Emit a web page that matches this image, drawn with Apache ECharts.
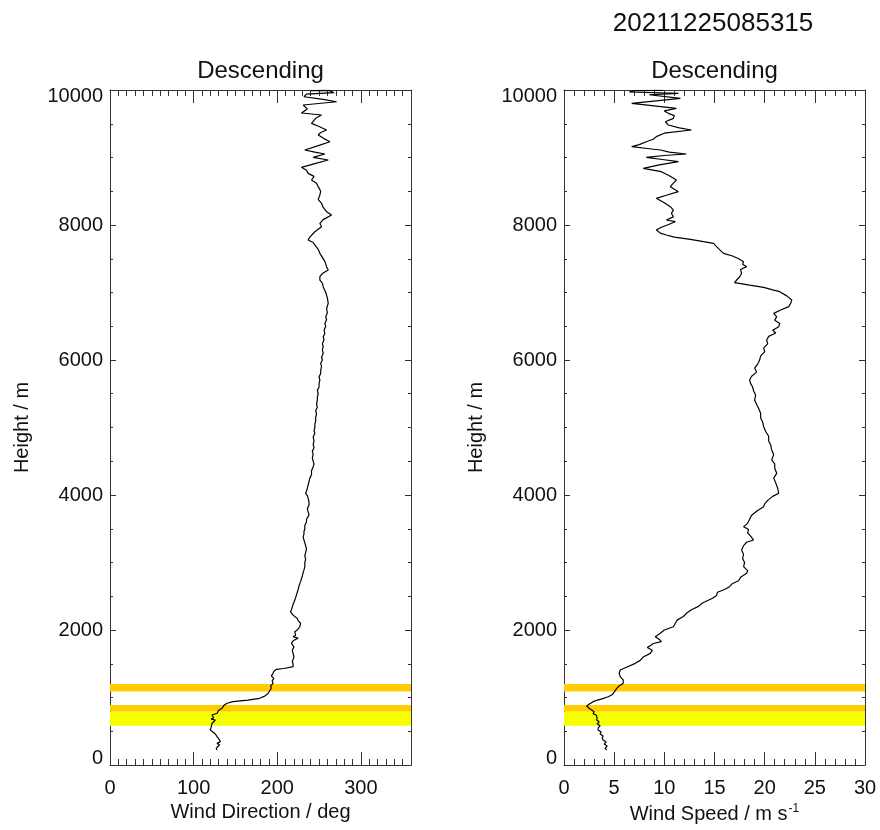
<!DOCTYPE html>
<html>
<head>
<meta charset="utf-8">
<title>Descending profile 20211225085315</title>
<script src="https://cdn.jsdelivr.net/npm/echarts@6/dist/echarts.min.js"></script>
<style>
  html, body { margin: 0; padding: 0; background: #fff; }
  #chart { width: 880px; height: 830px; }
</style>
</head>
<body>
<div id="chart"></div>
<script>
// ---- Sounding data (descending leg) ----
const stamp = '20211225085315';
const panelTitle = 'Descending';

// wind direction profile: heights (m) and direction (deg)
const dirHeights = [
  9990, 9995, 9960, 9940, 9900, 9860, 9826, 9778, 9720, 9659, 9630, 9580, 9506, 9460, 9407, 9370,
  9333, 9280, 9234, 9180, 9111, 9080, 9052, 9002, 8963, 8910, 8854, 8810, 8765, 8720, 8667, 8620,
  8568, 8500, 8444, 8380, 8321, 8260, 8198, 8148, 8123, 8080, 8025, 7975, 7900, 7820, 7778, 7740,
  7704, 7640, 7580, 7520, 7457, 7383, 7333, 7280, 7234, 7185, 7140, 7086, 7000, 6920, 6840, 6760,
  6700, 6640, 6600, 6540, 6500, 6440, 6395, 6340, 6300, 6240, 6200, 6150, 6100, 6040, 6000, 5950,
  5901, 5850, 5800, 5750, 5700, 5650, 5600, 5550, 5500, 5450, 5407, 5350, 5300, 5250, 5200, 5150,
  5100, 5050, 5000, 4950, 4914, 4860, 4800, 4750, 4700, 4650, 4600, 4550, 4500, 4460, 4420, 4360,
  4300, 4250, 4200, 4150, 4100, 4060, 4025, 3990, 3950, 3900, 3850, 3800, 3750, 3710, 3679, 3640,
  3600, 3550, 3500, 3460, 3420, 3380, 3333, 3290, 3250, 3200, 3150, 3100, 3050, 3000, 2938, 2890,
  2850, 2800, 2760, 2720, 2691, 2650, 2600, 2560, 2520, 2480, 2444, 2410, 2380, 2340, 2300, 2270,
  2247, 2220, 2200, 2170, 2140, 2100, 2049, 2020, 2000, 1975, 1950, 1920, 1900, 1880, 1840, 1802,
  1775, 1750, 1725, 1700, 1675, 1654, 1630, 1600, 1565, 1530, 1500, 1480, 1457, 1430, 1417, 1390,
  1358, 1320, 1280, 1250, 1210, 1170, 1140, 1111, 1060, 1020, 988, 960, 938, 915, 904, 880,
  860, 840, 810, 790, 766, 740, 716, 700, 680, 667, 640, 615, 593, 560, 540, 519,
  490, 460, 440, 420, 390, 370, 346, 320, 300, 272, 245, 222
];
const dirValues = [
  240, 262, 268, 235, 232, 255, 271, 231, 236, 229, 253, 246, 241, 250, 259, 252,
  249, 256, 263, 250, 233, 245, 257, 243, 261, 245, 229, 235, 237, 244, 241, 247,
  249, 252, 251, 249, 253, 255, 259, 265, 263, 255, 251, 253, 245, 239, 237, 243,
  245, 249, 251, 254, 257, 259, 261, 254, 251, 251, 254, 255, 258, 260, 261, 259,
  260, 258, 259, 257, 258, 256, 257, 255, 256, 254, 255, 254, 255, 253, 254, 252,
  253, 252, 252, 250, 251, 250, 250, 248, 249, 248, 248, 247, 248, 246, 247, 246,
  246, 245, 245, 244, 245, 243, 244, 243, 244, 242, 243, 242, 243, 244, 243, 241,
  241, 239, 238, 237, 236, 235, 234, 236, 237, 238, 238, 236, 237, 238, 237, 235,
  235, 233, 233, 232, 232, 231, 232, 233, 234, 235, 234, 233, 234, 233, 233, 232,
  231, 230, 229, 228, 227, 226, 225, 224, 223, 222, 221, 220, 219, 218, 217, 216,
  217, 219, 221, 224, 225, 228, 227, 226, 224, 221, 220, 222, 219, 225, 219, 217,
  219, 220, 218, 218, 220, 219, 221, 220, 219, 218, 219, 218, 219, 208, 199, 196,
  195, 193, 196, 194, 195, 192, 193, 191, 189, 185, 179, 165, 147, 140, 138, 136,
  134, 134, 130, 132, 128, 122, 120, 124, 121, 126, 125, 122, 122, 121, 123, 120,
  123, 126, 124, 128, 130, 129, 132, 128, 131, 130, 127, 128
];

// wind speed profile: heights (m) and speed (m s-1)
const spdHeights = [
  9995, 9990, 9970, 9950, 9930, 9877, 9802, 9728, 9690, 9654, 9620, 9580, 9530, 9481, 9440, 9407,
  9360, 9309, 9270, 9234, 9190, 9160, 9130, 9111, 9080, 9052, 9030, 9002, 8970, 8938, 8890, 8839,
  8810, 8790, 8730, 8667, 8620, 8568, 8530, 8494, 8440, 8395, 8330, 8272, 8220, 8173, 8120, 8074,
  8049, 8000, 7960, 7926, 7880, 7852, 7820, 7788, 7753, 7728, 7704, 7650, 7580, 7540, 7500, 7457,
  7420, 7383, 7340, 7284, 7230, 7185, 7146, 7110, 7077, 7040, 7012, 6950, 6889, 6840, 6790, 6740,
  6691, 6640, 6590, 6540, 6494, 6440, 6400, 6350, 6296, 6240, 6180, 6120, 6060, 5999, 5940, 5880,
  5820, 5760, 5704, 5650, 5600, 5540, 5480, 5407, 5340, 5280, 5210, 5140, 5080, 5012, 4940, 4870,
  4800, 4740, 4667, 4600, 4520, 4460, 4400, 4321, 4250, 4180, 4100, 4025, 3980, 3920, 3870, 3827,
  3770, 3700, 3640, 3580, 3531, 3490, 3440, 3390, 3333, 3300, 3250, 3185, 3120, 3060, 3000, 2940,
  2880, 2840, 2780, 2730, 2690, 2642, 2600, 2560, 2510, 2470, 2444, 2400, 2350, 2300, 2247, 2200,
  2150, 2100, 2049, 2000, 1951, 1900, 1860, 1827, 1800, 1778, 1740, 1700, 1654, 1600, 1550, 1506,
  1460, 1407, 1360, 1309, 1260, 1210, 1170, 1136, 1080, 1040, 1012, 980, 960, 938, 900, 874,
  840, 815, 790, 760, 740, 720, 700, 667, 640, 610, 580, 550, 519, 490, 460, 430,
  400, 370, 340, 310, 280, 250, 222
];
const spdValues = [
  9.9, 7.0, 6.5, 11.4, 8.5, 11.6, 6.75, 11.2, 10.0, 10.4, 11.0, 10.9, 10.1, 10.4, 11.5, 12.7,
  10.0, 9.2, 8.9, 8.2, 7.5, 6.75, 8.5, 9.6, 10.5, 12.2, 10.0, 8.2, 9.8, 11.4, 9.5, 7.9,
  9.0, 9.7, 10.5, 11.2, 10.9, 10.6, 11.0, 11.4, 10.2, 9.2, 10.0, 10.6, 10.9, 10.7, 10.9, 10.2,
  11.1, 10.3, 9.6, 9.2, 9.6, 10.2, 11.0, 12.6, 13.9, 14.9, 15.05, 15.4, 15.9, 16.8, 17.4, 17.9,
  17.8, 18.2, 17.6, 17.7, 17.5, 17.2, 17.0, 18.5, 19.9, 20.8, 21.5, 22.2, 22.7, 22.6, 22.4, 21.6,
  20.9, 21.2, 21.0, 21.5, 21.4, 20.8, 21.1, 20.4, 20.2, 20.3, 19.9, 20.0, 19.6, 19.5, 19.3, 19.0,
  19.2, 18.7, 18.5, 18.6, 18.8, 18.9, 19.1, 19.0, 19.2, 19.4, 19.6, 19.6, 19.8, 19.9, 20.1, 20.4,
  20.4, 20.6, 20.7, 20.9, 20.7, 21.0, 21.0, 21.2, 20.9, 21.1, 21.3, 21.4, 20.8, 20.3, 20.0, 19.9,
  19.3, 18.7, 18.5, 18.3, 17.9, 18.4, 18.3, 18.6, 18.9, 18.2, 17.9, 17.7, 17.9, 17.8, 18.0, 17.9,
  18.3, 18.2, 17.6, 17.4, 16.8, 16.5, 16.0, 15.3, 15.2, 14.8, 14.9, 13.8, 13.4, 12.7, 12.2, 11.9,
  11.3, 11.1, 10.9, 10.0, 9.6, 9.1, 9.5, 9.7, 8.9, 8.7, 8.3, 8.8, 8.6, 7.9, 7.6, 7.1,
  6.4, 5.6, 5.5, 5.6, 5.9, 5.9, 5.5, 5.25, 5.0, 4.8, 4.4, 3.8, 3.3, 2.9, 2.5, 2.26,
  2.5, 2.6, 3.0, 2.9, 3.2, 3.1, 3.3, 3.26, 3.5, 3.3, 3.6, 3.4, 3.4, 3.7, 3.6, 3.9,
  3.8, 3.9, 4.2, 4.0, 4.3, 4.1, 4.25
];

// flagged height layers (m)
const orangeLayers = [[1090, 1200], [790, 890]];
const yellowLayers = [[580, 790]];

// axis tick values
const heightTicks = [0, 2000, 4000, 6000, 8000, 10000];
const dirTicks = [0, 100, 200, 300];
const speedTicks = [0, 5, 10, 15, 20, 25, 30];

// ---- styling ----
const FONT = "'Liberation Sans', Arial, Helvetica, sans-serif";
const INK = '#111';
const FRAME = '#333';
const ORANGE = '#FFCC00';
const YELLOW = '#F6FF00';

const chart = echarts.init(document.getElementById('chart'), null, { renderer: 'canvas' });

const grids = [
  { left: 110, top: 90, width: 301, height: 675, outerBoundsMode: 'none', containLabel: false },
  { left: 564, top: 90, width: 301, height: 675, outerBoundsMode: 'none', containLabel: false }
];

const lineStyle = { color: FRAME, width: 1 };

function xAxesFor(g, min, max, major, minor, name) {
  const base = { gridIndex: g, type: 'value', min: min, max: max, splitLine: { show: false } };
  return [
    Object.assign({}, base, {
      position: 'bottom', interval: major,
      axisLine: { show: true, onZero: false, lineStyle: lineStyle },
      axisTick: { show: true, inside: true, length: 13, lineStyle: lineStyle },
      axisLabel: {
        show: true, margin: 13, color: INK, fontFamily: FONT, fontSize: 20,
        showMaxLabel: max % major === 0, formatter: v => String(v)
      },
      name: name, nameLocation: 'middle', nameGap: 37,
      nameTextStyle: {
        color: INK, fontFamily: FONT, fontSize: 20,
        rich: { sup: { fontSize: 12, fontFamily: FONT, color: INK, verticalAlign: 'bottom', padding: [0, 0, 11, 1] } }
      }
    }),
    Object.assign({}, base, {
      position: 'bottom', interval: minor,
      axisLine: { show: false, onZero: false },
      axisTick: { show: true, inside: true, length: 6, lineStyle: lineStyle },
      axisLabel: { show: false }
    }),
    Object.assign({}, base, {
      position: 'top', interval: major,
      axisLine: { show: true, onZero: false, lineStyle: lineStyle },
      axisTick: { show: true, inside: true, length: 13, lineStyle: lineStyle },
      axisLabel: { show: false },
      name: panelTitle, nameLocation: 'middle', nameGap: 7,
      nameTextStyle: { color: INK, fontFamily: FONT, fontSize: 24 }
    }),
    Object.assign({}, base, {
      position: 'top', interval: minor,
      axisLine: { show: false, onZero: false },
      axisTick: { show: true, inside: true, length: 6, lineStyle: lineStyle },
      axisLabel: { show: false }
    })
  ];
}

// edge labels of the height axis sit just inside the frame
function heightLabel(v) {
  if (v === heightTicks[heightTicks.length - 1]) return '{down|' + v + '}';
  if (v === heightTicks[0]) return '{up|' + v + '}';
  return String(v);
}

function yAxesFor(g) {
  const major = heightTicks[1] - heightTicks[0];
  const base = {
    gridIndex: g, type: 'value', min: heightTicks[0], max: heightTicks[heightTicks.length - 1],
    splitLine: { show: false }
  };
  return [
    Object.assign({}, base, {
      position: 'left', interval: major,
      axisLine: { show: true, onZero: false, lineStyle: lineStyle },
      axisTick: { show: true, inside: true, length: 6, lineStyle: lineStyle },
      axisLabel: {
        show: true, margin: 7, color: INK, fontFamily: FONT, fontSize: 20, formatter: heightLabel,
        rich: {
          down: { fontFamily: FONT, fontSize: 20, color: INK, padding: [12, 0, 0, 0] },
          up: { fontFamily: FONT, fontSize: 20, color: INK, padding: [0, 0, 14, 0] }
        }
      },
      name: 'Height / m', nameLocation: 'middle', nameGap: 78, nameRotate: 90,
      nameTextStyle: { color: INK, fontFamily: FONT, fontSize: 20 }
    }),
    Object.assign({}, base, {
      position: 'left', interval: major / 4,
      axisLine: { show: false, onZero: false },
      axisTick: { show: true, inside: true, length: 3, lineStyle: lineStyle },
      axisLabel: { show: false }
    }),
    Object.assign({}, base, {
      position: 'right', interval: major,
      axisLine: { show: true, onZero: false, lineStyle: lineStyle },
      axisTick: { show: true, inside: true, length: 6, lineStyle: lineStyle },
      axisLabel: { show: false }
    }),
    Object.assign({}, base, {
      position: 'right', interval: major / 4,
      axisLine: { show: false, onZero: false },
      axisTick: { show: true, inside: true, length: 3, lineStyle: lineStyle },
      axisLabel: { show: false }
    })
  ];
}

function layerAreas() {
  const areas = [];
  orangeLayers.forEach(r => areas.push([{ yAxis: r[0], itemStyle: { color: ORANGE } }, { yAxis: r[1] }]));
  yellowLayers.forEach(r => areas.push([{ yAxis: r[0], itemStyle: { color: YELLOW } }, { yAxis: r[1] }]));
  return areas;
}

function profileSeries(xIdx, yIdx, heights, values) {
  return {
    type: 'line',
    xAxisIndex: xIdx,
    yAxisIndex: yIdx,
    data: heights.map((h, i) => [values[i], h]),
    showSymbol: false,
    symbol: 'none',
    lineStyle: { color: '#000', width: 1.2 },
    z: 5,
    markArea: { silent: true, data: layerAreas(), itemStyle: { opacity: 1 } }
  };
}

const dirMajor = dirTicks[1] - dirTicks[0];
const spdMajor = speedTicks[1] - speedTicks[0];

const option = {
  animation: false,
  backgroundColor: '#fff',
  grid: grids,
  xAxis: [].concat(
    xAxesFor(0, dirTicks[0], 360, dirMajor, dirMajor / 10, 'Wind Direction / deg'),
    xAxesFor(1, speedTicks[0], speedTicks[speedTicks.length - 1], spdMajor, spdMajor / 5, 'Wind Speed / m s{sup|-1}')
  ),
  yAxis: [].concat(yAxesFor(0), yAxesFor(1)),
  graphic: [{
    type: 'text', x: 713, y: 24,
    style: { text: stamp, fill: INK, font: '26px ' + FONT, textAlign: 'center', textVerticalAlign: 'middle' }
  }],
  series: [
    profileSeries(0, 0, dirHeights, dirValues),
    profileSeries(4, 4, spdHeights, spdValues)
  ]
};

chart.setOption(option);
</script>
</body>
</html>
